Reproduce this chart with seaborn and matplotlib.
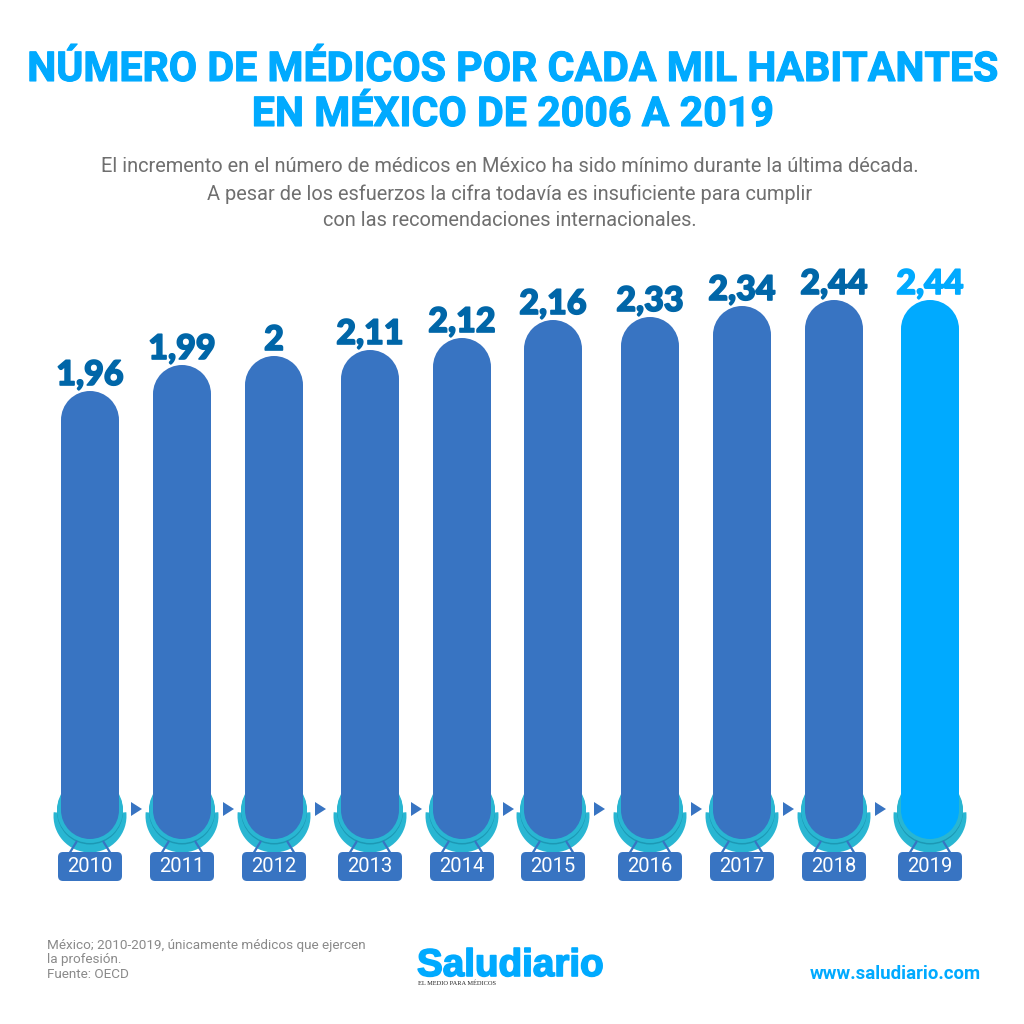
import matplotlib
matplotlib.use("Agg")
import matplotlib.pyplot as plt
import matplotlib.patheffects as pe
from matplotlib.patches import FancyBboxPatch, Circle, Wedge, Polygon
import seaborn as sns

years = ["2010", "2011", "2012", "2013", "2014", "2015", "2016", "2017", "2018", "2019"]
labels = ["1,96", "1,99", "2", "2,11", "2,12", "2,16", "2,33", "2,34", "2,44", "2,44"]
# alturas, las barras no son proporcionales a la etiqueta
heights = [448, 474, 483, 489, 501, 519, 522, 533, 539, 539]
centers = [90, 182, 274, 370, 462, 553, 650, 742, 834, 930]
colors = ["#3874C2"] * 9 + ["#00AAFF"]

sns.set_theme(style="white")
fig = plt.figure(figsize=(10.24, 10.24), dpi=100)
ax = fig.add_axes([0, 0, 1, 1])

base = 839  # pixel donde termina la barra
# con native_scale el ancho es relativo al paso minimo entre centros (91)
sns.barplot(x=centers, y=heights, native_scale=True, width=58 / 91, hue=centers,
            palette=colors, legend=False, dodge=False, ax=ax, saturation=1)
ax.set_xlim(0, 1024)
ax.set_ylim(base - 1024, base)
ax.axis("off")


def py(p):
    return base - p


def heavy(w, col):
    return [pe.withStroke(linewidth=w, foreground=col)]


# cada rectangulo pasa a capsula: se recorta y se le ponen dos circulos
bars = sorted([b for b in ax.patches if b.get_height() > 0], key=lambda b: b.get_x())
for i, b in enumerate(bars):
    x, w, h = b.get_x(), b.get_width(), b.get_height()
    c = x + w / 2
    r = w / 2
    col = b.get_facecolor()
    b.set_y(r)
    b.set_height(h - 2 * r)
    b.set_zorder(2)
    b.set_edgecolor("none")
    ax.add_patch(Circle((c, r), r, fc=col, ec="none", zorder=2))
    ax.add_patch(Circle((c, h - r), r, fc=col, ec="none", zorder=2))

    # medalla
    ax.add_patch(Wedge((c, py(816)), 36.5, 174, 366, fc="#29B6D2", ec="none", zorder=1))
    ax.add_patch(Circle((c, py(811.5)), 33, fc="#1C98B4", ec="none", zorder=1.5))
    ax.add_patch(Circle((c, py(810)), 33, fc="#29B6D2", ec="none", zorder=1.6))
    for s in (-1, 1):
        ax.plot([c + s * 13, c + s * 21], [py(841), py(854)], color="#3874C2", lw=1.6,
                zorder=1.8, solid_capstyle="butt")
    ax.add_patch(FancyBboxPatch((c - 32, py(881)), 64, 29, boxstyle="round,pad=0,rounding_size=5",
                                fc="#3874C2", ec="none", zorder=3))
    ax.text(c, py(867), years[i], color="white", fontsize=14.5, family="Roboto",
            ha="center", va="center", zorder=4)
    lab_col = "#0066A8" if i < 9 else "#00AAFF"
    ax.text(c, h, labels[i], color=lab_col, fontsize=24.5, family="Lato", weight="black",
            ha="center", va="bottom", zorder=4, path_effects=heavy(1.2, lab_col))
    if i < 9:
        ax.add_patch(Polygon([[c + 41, py(802)], [c + 41, py(816)], [c + 52, py(809)]],
                             closed=True, fc="#3874C2", ec="none", zorder=3))

ax.text(513, py(70), "NÚMERO DE MÉDICOS POR CADA MIL HABITANTES", color="#00AAFF", fontsize=29.6,
        family="Roboto", weight="bold", ha="center", va="center", path_effects=heavy(0.8, "#00AAFF"))
ax.text(513, py(115), "EN MÉXICO DE 2006 A 2019", color="#00AAFF", fontsize=29.6,
        family="Roboto", weight="bold", ha="center", va="center", path_effects=heavy(0.8, "#00AAFF"))

sub = ["El incremento en el número de médicos en México ha sido mínimo durante la última década.",
       "A pesar de los esfuerzos la cifra todavía es insuficiente para cumplir",
       "con las recomendaciones internacionales."]
for t, p in zip(sub, [167, 194, 220]):
    ax.text(510, py(p), t, color="#6F6F6F", fontsize=14.4, family="Roboto", ha="center", va="center")

foot = ["México; 2010-2019, únicamente médicos que ejercen", "la profesión.", "Fuente: OECD"]
for t, p in zip(foot, [945, 960, 975]):
    ax.text(47, py(p), t, color="#8A8A8A", fontsize=9.7, family="Roboto", ha="left", va="center")

ax.text(417, py(976), "Saludiario", color="#00AAFF", fontsize=27.8, family="Liberation Sans",
        weight="bold", ha="left", va="baseline", path_effects=heavy(1.2, "#00AAFF"))
ax.text(418, py(983), "EL MEDIO PARA MÉDICOS", color="#222222", fontsize=4.6, family="Liberation Serif",
        ha="left", va="center")
ax.text(981, py(974), "www.saludiario.com", color="#00AAFF", fontsize=13.4, family="Roboto",
        weight="bold", ha="right", va="center")

fig.savefig("out.png", dpi=100, facecolor="white")
